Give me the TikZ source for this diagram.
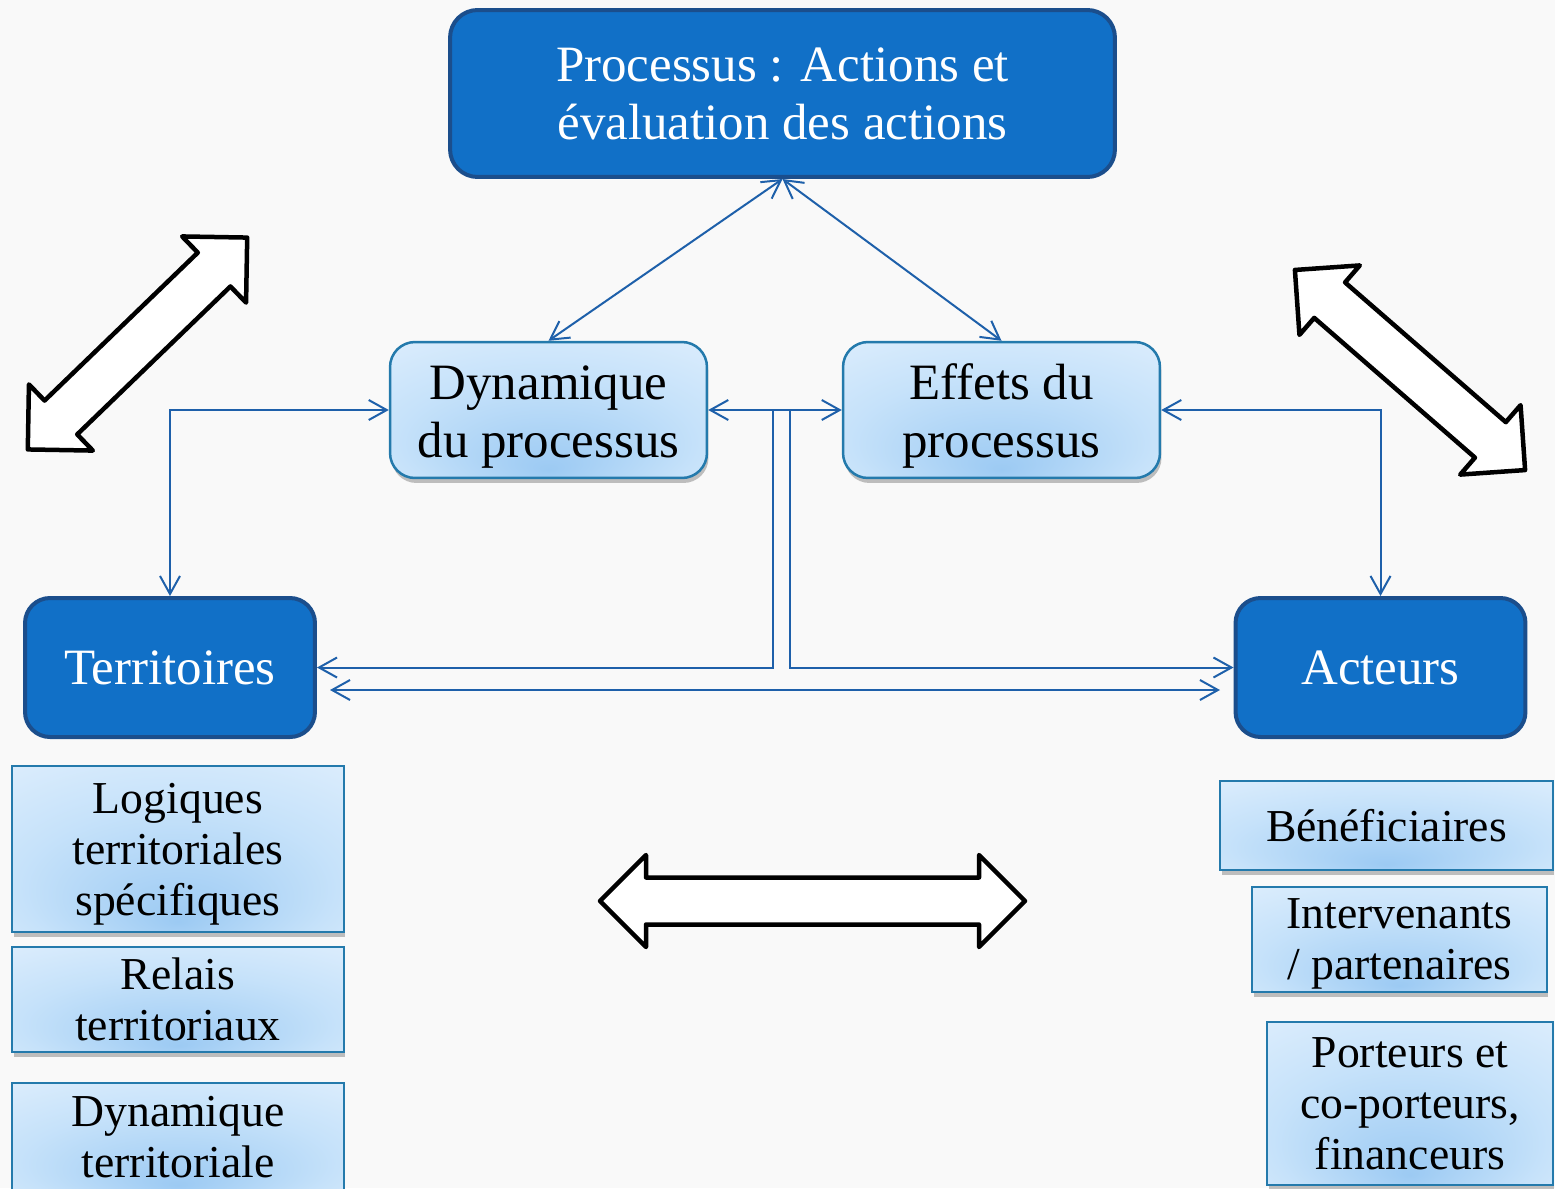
\documentclass[tikz,border=0pt]{standalone}
\usepackage{fontspec}
\setmainfont{Liberation Serif}
\usetikzlibrary{arrows.meta,shadows}
\definecolor{bgpaper}{RGB}{249,249,249}
\definecolor{darkfill}{RGB}{17,112,199}
\definecolor{darkedge}{RGB}{27,78,140}
\definecolor{paleedge}{RGB}{36,122,172}
\definecolor{glowin}{RGB}{156,202,243}
\definecolor{glowmid}{RGB}{198,226,250}
\definecolor{glowout}{RGB}{234,244,254}
\definecolor{linkblue}{RGB}{30,96,170}
\pgfdeclareradialshading{boxglow}{\pgfpoint{0bp}{-22bp}}{color(0bp)=(glowin); color(24bp)=(glowmid); color(50bp)=(glowout)}

\begin{document}
\begin{tikzpicture}[x=0.02cm,y=-0.02cm,
  darkbox/.style={draw=darkedge, line width=0.08cm, fill=darkfill, rounded corners=0.55cm,
    text=white, align=center, inner sep=0pt, font=\fontsize{29}{33}\selectfont},
  glowbox/.style={draw=paleedge, line width=0.05cm, shade, shading=boxglow,
    drop shadow={shadow xshift=0.03cm, shadow yshift=-0.1cm, opacity=0.3, fill=black!80},
    align=center, inner sep=0pt, font=\fontsize{26}{29}\selectfont},
  roundglow/.style={glowbox, rounded corners=0.5cm, font=\fontsize{29}{33}\selectfont},
  droptext/.style={text height=#1},
  barb/.tip={Straight Barb[length=0.36cm,width=0.4cm]},
  link/.style={draw=linkblue, line width=0.04cm},
  hollow/.style={draw=black, fill=white, line width=0.09cm, line join=round}]
% page: 1555 x 1188 px, 1px = 0.02cm
\useasboundingbox (0,0) rectangle (1555,1188);
\fill[bgpaper] (0,0) rectangle (1555,1188);
\clip (0,0) rectangle (1555,1188);

% top and middle row
\node[darkbox, minimum width=13.3cm, minimum height=3.34cm] (proc) at (782.5,93.5) {Processus : Actions et\\évaluation des actions};
\node[roundglow, droptext=2.1cm, minimum width=6.34cm, minimum height=2.72cm] (dyn) at (548.5,410) {Dynamique\\du processus};
\node[roundglow, droptext=2.1cm, minimum width=6.34cm, minimum height=2.72cm] (eff) at (1001.5,410) {Effets du\\processus};

% territoires / acteurs
\node[darkbox, rounded corners=0.5cm, minimum width=5.8cm, minimum height=2.78cm] (terr) at (170,667.5) {Territoires};
\node[darkbox, rounded corners=0.5cm, minimum width=5.8cm, minimum height=2.78cm] (act) at (1380.5,667.5) {Acteurs};

% left column
\node[glowbox, droptext=2.86cm, minimum width=6.64cm, minimum height=3.32cm] (logq) at (178,849) {Logiques\\territoriales\\spécifiques};
\node[glowbox, minimum width=6.64cm, minimum height=2.1cm] (relais) at (178,999.5) {Relais\\territoriaux};
\node[glowbox, minimum width=6.64cm, minimum height=2.18cm] (dynter) at (178,1137.5) {Dynamique\\territoriale};

% right column
\node[glowbox, minimum width=6.66cm, minimum height=1.78cm] (benef) at (1386.5,825.5) {Bénéficiaires};
\node[glowbox, droptext=1.78cm, minimum width=5.9cm, minimum height=2.1cm] (interv) at (1399.5,939.5) {Intervenants\\/ partenaires};
\node[glowbox, minimum width=5.72cm, minimum height=3.26cm] (port) at (1410,1103.5) {Porteurs et\\co-porteurs,\\financeurs};

% connectors
\coordinate (splitl) at (773,410);
\coordinate (splitr) at (790,410);
\coordinate (basel) at (330,690);
\coordinate (baser) at (1220,690);
\draw[link, barb-barb] (dyn.north) -- (proc.south);
\draw[link, barb-barb] (eff.north) -- (proc.south);
\draw[link, barb-barb] (dyn.east) -- (eff.west);
\draw[link, barb-barb] (dyn.west) -| (terr.north);
\draw[link, barb-barb] (eff.east) -| (act.north);
\draw[link, -barb] (splitl) |- (terr.east);
\draw[link, -barb] (splitr) |- (act.west);
\draw[link, barb-barb] (basel) -- (baser);

% hollow double arrows
\begin{scope}[shift={(137.5,343.5)}, rotate=44]
\draw[hollow] (-152.5,0) -- (-106.5,46) -- (-106.5,23.5) -- (106.5,23.5) -- (106.5,46) -- (152.5,0)
  -- (106.5,-46) -- (106.5,-23.5) -- (-106.5,-23.5) -- (-106.5,-46) -- cycle;
\end{scope}
\begin{scope}[shift={(1410,370)}, rotate=-41]
\draw[hollow] (-152.5,0) -- (-106.5,46) -- (-106.5,23.5) -- (106.5,23.5) -- (106.5,46) -- (152.5,0)
  -- (106.5,-46) -- (106.5,-23.5) -- (-106.5,-23.5) -- (-106.5,-46) -- cycle;
\end{scope}
\begin{scope}[shift={(812.5,901)}]
\draw[hollow] (-212.5,0) -- (-166.5,46) -- (-166.5,23.5) -- (166.5,23.5) -- (166.5,46) -- (212.5,0)
  -- (166.5,-46) -- (166.5,-23.5) -- (-166.5,-23.5) -- (-166.5,-46) -- cycle;
\end{scope}
\end{tikzpicture}
\end{document}
